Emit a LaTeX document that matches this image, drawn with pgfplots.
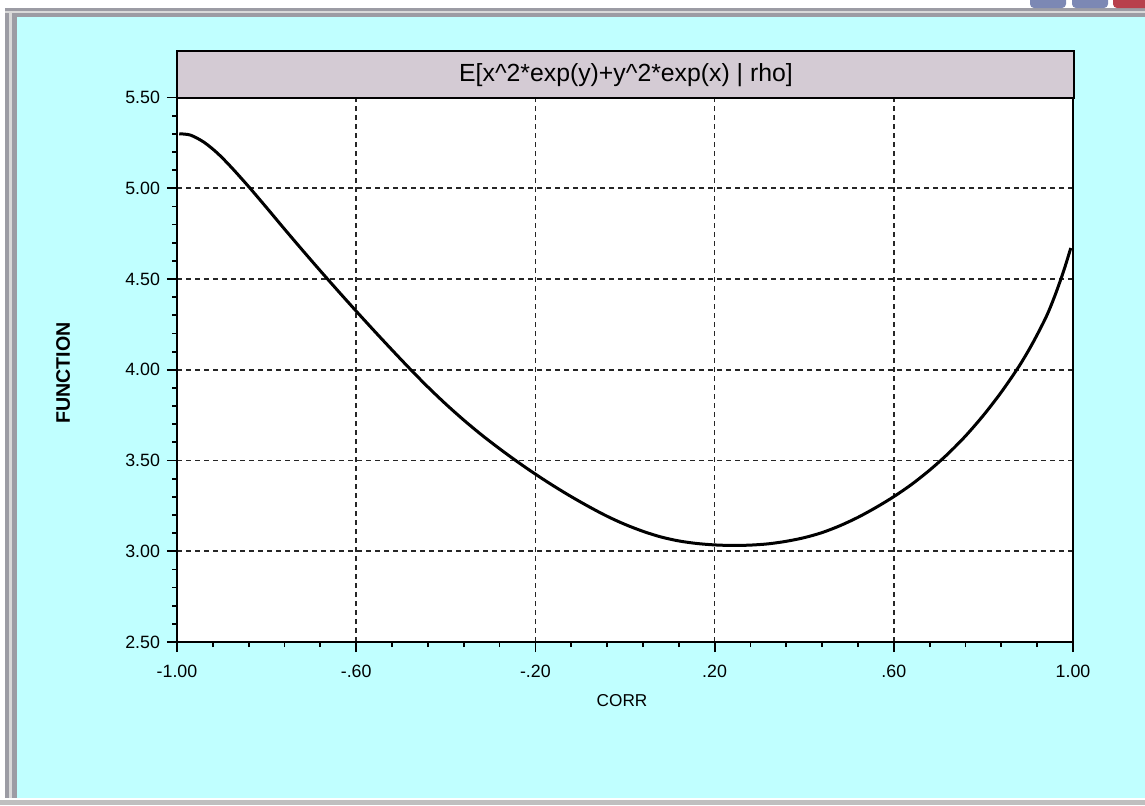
\documentclass[border=0pt]{standalone}
\usepackage{fontspec}
\setmainfont{Liberation Sans}
\usepackage{pgfplots}
\pgfplotsset{compat=1.18}
\definecolor{bgcyan}{HTML}{C0FFFF}
\definecolor{titlebg}{HTML}{D4CBD4}
\definecolor{framegray}{HTML}{9C9CA4}
\definecolor{btnblue}{HTML}{7C88B4}
\definecolor{btnred}{HTML}{B8404C}
\begin{document}
\begin{tikzpicture}
\begin{scope}[x=0.5pt,y=-0.5pt]
\fill[bgcyan] (0,0) rectangle (1145,805);
\path[use as bounding box] (0,0) rectangle (1145,805);
% window frame
\fill[white] (0,0) rectangle (1145,8);
\fill[white] (0,0) rectangle (5,805);
\fill[framegray] (5,8) rectangle (1145,17);
\fill[framegray] (5,8) rectangle (17,805);
\fill[gray!30] (5,11) rectangle (1145,13);
\fill[gray!30] (9,11) rectangle (12,805);
\fill[gray!50] (0,799) rectangle (1145,805);
\fill[white] (0,798) rectangle (1145,800);
\fill[btnblue, rounded corners=2pt] (1030,-6) rectangle (1066,8);
\fill[btnblue, rounded corners=2pt] (1072,-6) rectangle (1108,8);
\fill[btnred, rounded corners=2pt] (1113,-6) rectangle (1150,8);
\end{scope}
\begin{axis}[
  at={(88.5pt,-321pt)}, anchor=south west,
  scale only axis, width=448pt, height=272.25pt,
  xmin=-1, xmax=1, ymin=2.5, ymax=5.5,
  axis background/.style={fill=white},
  xtick={-1,-0.6,-0.2,0.2,0.6,1},
  xticklabels={-1.00,-.60,-.20,.20,.60,1.00},
  ytick={2.5,3,3.5,4,4.5,5,5.5},
  yticklabels={2.50,3.00,3.50,4.00,4.50,5.00,5.50},
  minor x tick num=4, minor y tick num=4,
  tick align=outside, xtick pos=bottom, ytick pos=left,
  major tick length=5pt, minor tick length=2.5pt,
  every tick/.style={black, line width=0.9pt},
  grid=major,
  major grid style={dash pattern=on 2.6pt off 1.9pt, line width=0.85pt, black!85},
  axis line style={line width=1pt},
  ticklabel style={font=\fontsize{8.9}{10}\selectfont},
  xticklabel style={yshift=-3pt},
  /pgf/number format/assume math mode=true,
  xlabel={CORR},
  xlabel style={at={(axis description cs:0.4967,-0.1074)}, anchor=center, font=\fontsize{8.6}{10}\selectfont},
  ylabel={FUNCTION},
  ylabel style={at={(axis description cs:-0.1272,0.494)}, anchor=center, font=\bfseries\fontsize{9.8}{11}\selectfont},
]
\addplot[black, line width=1.5pt, smooth] coordinates {
(-0.995,5.300) (-0.970,5.293) (-0.940,5.254) (-0.910,5.194) (-0.880,5.119)
(-0.840,5.009) (-0.800,4.893) (-0.760,4.775) (-0.720,4.659) (-0.680,4.545)
(-0.640,4.433) (-0.600,4.323) (-0.560,4.215) (-0.520,4.109) (-0.480,4.005)
(-0.440,3.905) (-0.400,3.811) (-0.360,3.723) (-0.320,3.641) (-0.280,3.565)
(-0.240,3.493) (-0.200,3.425) (-0.160,3.361) (-0.120,3.301) (-0.080,3.245)
(-0.040,3.193) (0.000,3.148) (0.040,3.110) (0.080,3.079) (0.120,3.057)
(0.160,3.043) (0.200,3.035) (0.240,3.032) (0.280,3.034) (0.320,3.041)
(0.360,3.055) (0.400,3.075) (0.440,3.103) (0.480,3.141) (0.520,3.187)
(0.560,3.241) (0.600,3.301) (0.640,3.369) (0.680,3.447) (0.720,3.535)
(0.760,3.635) (0.800,3.749) (0.840,3.877) (0.880,4.021) (0.910,4.147)
(0.940,4.291) (0.960,4.411) (0.980,4.551) (0.995,4.671)
};
\end{axis}
\begin{scope}[x=0.5pt,y=-0.5pt]
\draw[line width=1pt, fill=titlebg] (177,51) rectangle (1074,97.5);
\node[font=\fontsize{12.4}{14}\selectfont, inner sep=0pt] at (626,75) {E[x\textasciicircum{}2*exp(y)+y\textasciicircum{}2*exp(x) | rho]};
\end{scope}
\end{tikzpicture}
\end{document}
